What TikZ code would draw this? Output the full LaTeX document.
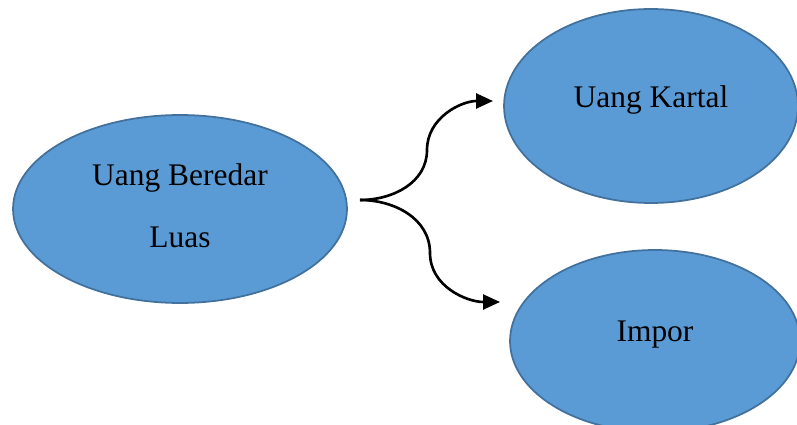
\documentclass[tikz,border=0pt]{standalone}
\usepackage{fontspec}
\setmainfont{Liberation Serif}
\usepackage{xcolor}
\usepackage{tikz}
\usetikzlibrary{shapes.geometric, arrows.meta, positioning}

\definecolor{ovalblue}{HTML}{5B9BD5}
\definecolor{ovaledge}{HTML}{41719C}

\begin{document}
\begin{tikzpicture}[
    x=0.02cm, y=-0.02cm,
    oval/.style={ellipse, draw=ovaledge, line width=1pt, fill=ovalblue, inner sep=0pt, align=center, font=\fontsize{17.9}{35.3}\selectfont},
    branch/.style={-{Triangle[length=0.34cm, width=0.3cm]}, line width=1.5pt}
]
  \useasboundingbox (0,0) rectangle (797,425);
  \clip (0,0) rectangle (797,425);

  % Ovals
  \node[oval, minimum width=6.68cm, minimum height=3.76cm] (beredar) at (180,209) {Uang Beredar\\Luas\rule[-0.12cm]{0pt}{0pt}};
  \node[oval, minimum width=5.88cm, minimum height=3.88cm, text depth=0.38cm] (kartal) at (651,106) {Uang Kartal};
  \node[oval, minimum width=5.8cm, minimum height=3.64cm, text depth=0.38cm] (impor) at (655,341) {Impor};

  % Branching arrows
  \coordinate (fork) at (360,200);
  \coordinate (bendK) at (427,150);
  \coordinate (bendI) at (430,253);
  \coordinate (toKartal) at (493,101);
  \coordinate (toImpor) at (500,302);
  \draw[branch] (fork) to[out=0, in=-90] (bendK) to[out=90, in=180] (toKartal);
  \draw[branch] (fork) to[out=0, in=90] (bendI) to[out=-90, in=180] (toImpor);
\end{tikzpicture}
\end{document}
